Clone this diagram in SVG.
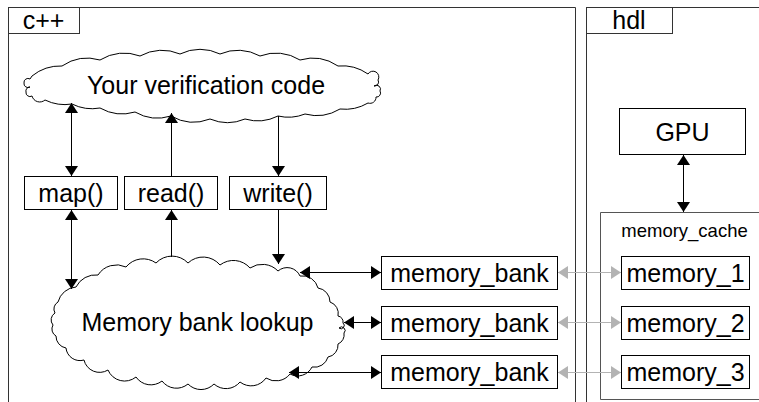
<svg xmlns="http://www.w3.org/2000/svg" width="759" height="402" viewBox="0 0 759 402">
<defs>
<style>
text{font-family:"Liberation Sans",Arial,sans-serif;font-size:25px;fill:#000;text-anchor:middle}
.box{fill:#fff;stroke:#000;stroke-width:1}
.frame{fill:none;stroke:#333;stroke-width:1}
.cloud{fill:#fff;stroke:#000;stroke-width:1}
.c{stroke:#000;stroke-width:1;fill:none}
.g{stroke:#b3b3b3;stroke-width:1;fill:none}
</style>
<marker id="ah" viewBox="0 0 10 10" refX="10" refY="5" markerWidth="10" markerHeight="13" markerUnits="userSpaceOnUse" orient="auto-start-reverse" preserveAspectRatio="none">
<path d="M0,0 L10,5 L0,10 Z" fill="#000"/>
</marker>
<marker id="ahg" viewBox="0 0 10 10" refX="10" refY="5" markerWidth="10" markerHeight="13" markerUnits="userSpaceOnUse" orient="auto-start-reverse" preserveAspectRatio="none">
<path d="M0,0 L10,5 L0,10 Z" fill="#b3b3b3"/>
</marker>
</defs>
<rect width="759" height="402" fill="#fff"/>

<g id="frame-cpp">
<path class="frame" d="M8.5,402 V7.5 H575.5 V402"/>
<rect class="frame" x="8.5" y="7.5" width="71" height="26"/>
<text x="43.5" y="28.5">c++</text>
</g>
<g id="frame-hdl">
<path class="frame" d="M586.5,402 V7.5 H760"/>
<rect class="frame" x="586.5" y="7.5" width="86" height="26"/>
<text x="629" y="28.5">hdl</text>
</g>

<g id="cloud-verification">
<path class="cloud" d="M32,76 A45,45 0 0 1 62,66 A45,45 0 0 1 100,60 A45,45 0 0 1 140,56 A45,45 0 0 1 180,54 A45,45 0 0 1 220,54 A45,45 0 0 1 260,56 A45,45 0 0 1 300,60 A45,45 0 0 1 338,66 A45,45 0 0 1 368,74 A5,5 0 0 1 378,80 A4,4 0 0 1 374,86 A4,4 0 0 1 380,91 A4,4 0 0 1 376,97 A6,6 0 0 1 368,103 A45,45 0 0 1 340,109 A45,45 0 0 1 305,114 A45,45 0 0 1 278,116 A45,45 0 0 1 245,119 A45,45 0 0 1 210,119 A45,45 0 0 1 171,116 A45,45 0 0 1 135,112 A45,45 0 0 1 100,108 A45,45 0 0 1 72,104 A45,45 0 0 1 45,100 A8,8 0 0 1 32,96 A4,4 0 0 1 26,92 A4,4 0 0 1 30,87 A4,4 0 0 1 24,83 A4,4 0 0 1 30,79 Z"/>
<text x="206" y="94">Your verification code</text>
</g>

<g id="cloud-lookup">
<path class="cloud" d="M58,302 A20,20 0 0 1 76,287 A22,22 0 0 1 98,275 A22,22 0 0 1 126,267 A22,22 0 0 1 156,263 A22,22 0 0 1 188,263 A22,22 0 0 1 220,265 A22,22 0 0 1 250,268 A22,22 0 0 1 278,271 A14,14 0 0 1 300,276 A16,16 0 0 1 318,288 A14,14 0 0 1 330,302 A12,12 0 0 1 338,316 A6,6 0 0 1 343,323 A3,3 0 0 1 339,328 A3,3 0 0 1 344,333 A10,10 0 0 1 338,344 A12,12 0 0 1 328,357 A14,14 0 0 1 312,367 A16,16 0 0 1 290,374 A18,18 0 0 1 266,378 A18,18 0 0 1 240,382 A18,18 0 0 1 214,384 A18,18 0 0 1 188,384 A18,18 0 0 1 162,381 A18,18 0 0 1 136,377 A18,18 0 0 1 108,370 A16,16 0 0 1 84,360 A14,14 0 0 1 66,348 A12,12 0 0 1 56,336 A8,8 0 0 1 53,325 A8,8 0 0 1 55,313 A8,8 0 0 1 58,302 Z"/>
<text x="197.5" y="331">Memory bank lookup</text>
</g>

<g id="node-map"><rect class="box" x="24.5" y="176.5" width="93" height="33"/><text x="71" y="202">map()</text></g>
<g id="node-read"><rect class="box" x="124.5" y="176.5" width="93" height="33"/><text x="171" y="202">read()</text></g>
<g id="node-write"><rect class="box" x="229.5" y="176.5" width="97" height="33"/><text x="278" y="202">write()</text></g>

<g id="node-bank1"><rect class="box" x="381.5" y="256.5" width="176" height="33"/><text x="469.5" y="281.5">memory_bank</text></g>
<g id="node-bank2"><rect class="box" x="381.5" y="306.5" width="176" height="33"/><text x="469.5" y="331.5">memory_bank</text></g>
<g id="node-bank3"><rect class="box" x="381.5" y="355.5" width="176" height="33"/><text x="469.5" y="381">memory_bank</text></g>

<g id="node-gpu"><rect class="box" x="619.5" y="108.5" width="126" height="46"/><text x="682.5" y="140.5">GPU</text></g>

<g id="node-memory-cache">
<path d="M770,212.5 H600.5 V399.5 H770" fill="#fff" stroke="#555" stroke-width="1"/>
<text x="684.5" y="237" style="font-size:18.5px">memory_cache</text>
</g>
<g id="node-mem1"><rect class="box" x="621.5" y="256.5" width="128" height="33"/><text x="685.5" y="281.5">memory_1</text></g>
<g id="node-mem2"><rect class="box" x="621.5" y="306.5" width="128" height="33"/><text x="685.5" y="331.5">memory_2</text></g>
<g id="node-mem3"><rect class="box" x="621.5" y="355.5" width="128" height="33"/><text x="685.5" y="381">memory_3</text></g>

<g id="connectors">
<line class="c" x1="71.5" y1="103" x2="71.5" y2="176" marker-start="url(#ah)" marker-end="url(#ah)"/>
<line class="c" x1="171.5" y1="176" x2="171.5" y2="113" marker-end="url(#ah)"/>
<line class="c" x1="278.5" y1="116" x2="278.5" y2="176" marker-end="url(#ah)"/>
<line class="c" x1="71.5" y1="210" x2="71.5" y2="289" marker-start="url(#ah)" marker-end="url(#ah)"/>
<line class="c" x1="171.5" y1="257" x2="171.5" y2="210" marker-end="url(#ah)"/>
<line class="c" x1="278.5" y1="210" x2="278.5" y2="264" marker-end="url(#ah)"/>
<line class="c" x1="300" y1="272.5" x2="381" y2="272.5" marker-start="url(#ah)" marker-end="url(#ah)"/>
<line class="c" x1="344" y1="322.5" x2="381" y2="322.5" marker-start="url(#ah)" marker-end="url(#ah)"/>
<line class="c" x1="289" y1="372.5" x2="381" y2="372.5" marker-start="url(#ah)" marker-end="url(#ah)"/>
<line class="g" x1="558" y1="272.5" x2="621" y2="272.5" marker-start="url(#ahg)" marker-end="url(#ahg)"/>
<line class="g" x1="558" y1="322.5" x2="621" y2="322.5" marker-start="url(#ahg)" marker-end="url(#ahg)"/>
<line class="g" x1="558" y1="372.5" x2="621" y2="372.5" marker-start="url(#ahg)" marker-end="url(#ahg)"/>
<line class="c" x1="683.5" y1="155" x2="683.5" y2="212" marker-start="url(#ah)" marker-end="url(#ah)"/>
</g>
</svg>
